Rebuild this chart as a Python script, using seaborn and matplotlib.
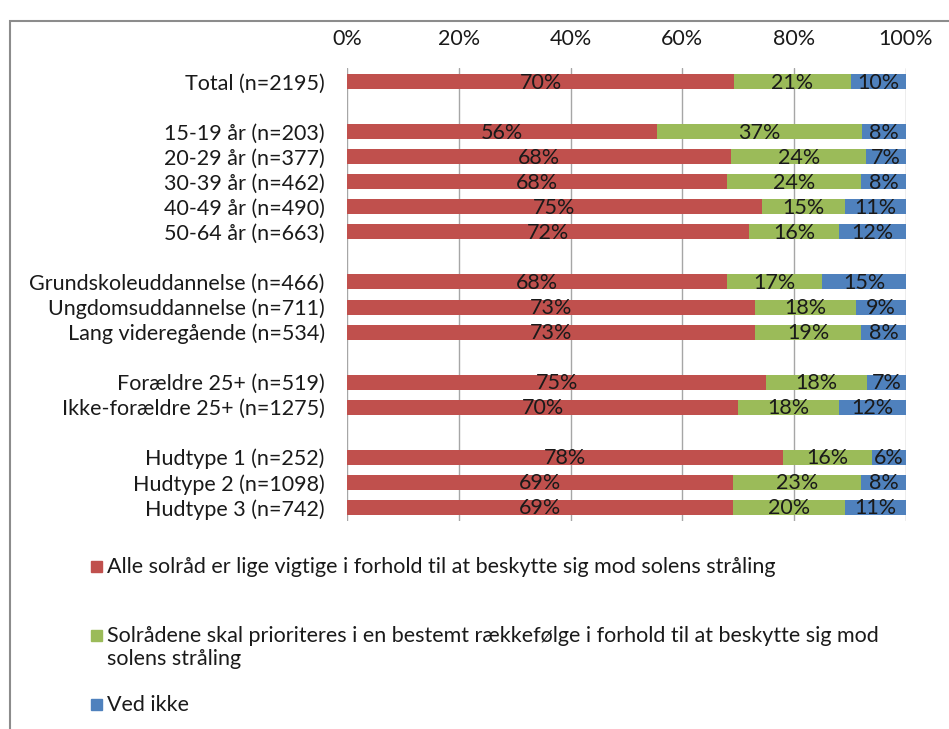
"""
Solråd: 100 % stacked bars by group, Excel-style recreation.
"""

import numpy as np
import pandas as pd
import matplotlib.pyplot as plt
import seaborn as sns
from matplotlib.patches import Rectangle
from matplotlib.ticker import FuncFormatter

groups = [
    "Total (n=2195)",
    "15-19 år (n=203)",
    "20-29 år (n=377)",
    "30-39 år (n=462)",
    "40-49 år (n=490)",
    "50-64 år (n=663)",
    "Grundskoleuddannelse (n=466)",
    "Ungdomsuddannelse (n=711)",
    "Lang videregående (n=534)",
    "Forældre 25+ (n=519)",
    "Ikke-forældre 25+ (n=1275)",
    "Hudtype 1 (n=252)",
    "Hudtype 2 (n=1098)",
    "Hudtype 3 (n=742)",
]
# row slot of each group (blank rows separate the blocks)
slots = [0, 2, 3, 4, 5, 6, 8, 9, 10, 12, 13, 15, 16, 17]

alle = [70, 56, 68, 68, 75, 72, 68, 73, 73, 75, 70, 78, 69, 69]
prioriteres = [21, 37, 24, 24, 15, 16, 17, 18, 19, 18, 18, 16, 23, 20]
ved_ikke = [10, 8, 7, 8, 11, 12, 15, 9, 8, 7, 12, 6, 8, 11]

series = [
    "Alle solråd er lige vigtige i forhold til at beskytte sig mod solens stråling",
    "Solrådene skal prioriteres i en bestemt rækkefølge i forhold til at beskytte sig mod\nsolens stråling",
    "Ved ikke",
]
colors = ["#C0504D", "#9BBB59", "#4F81BD"]

df = pd.DataFrame({"group": groups, "slot": slots,
                   "a": alle, "b": prioriteres, "c": ved_ikke})
tot = df[["a", "b", "c"]].sum(axis=1)
for k in ["a", "b", "c"]:
    df[k + "_n"] = df[k] / tot * 100
df["cum_a"] = df["a_n"]
df["cum_b"] = df["a_n"] + df["b_n"]
df["cum_c"] = df["cum_b"] + df["c_n"]

sns.set_style("white")
plt.rcParams["font.family"] = ["Lato", "DejaVu Sans"]

fig = plt.figure(figsize=(9.49, 7.29), dpi=100)
ax = fig.add_axes([347 / 949, 1 - 521 / 729, 559 / 949, 453 / 729])

# stacked by overlaying cumulative bars, widest first
for col, c in zip(["cum_c", "cum_b", "cum_a"], colors[::-1]):
    sns.barplot(data=df, x=col, y="slot", orient="y", native_scale=True,
                color=c, saturation=1, width=0.6, linewidth=0,
                errorbar=None, ax=ax)

# segment labels
for _, r in df.iterrows():
    lefts = [0, r["cum_a"], r["cum_b"]]
    widths = [r["a_n"], r["b_n"], r["c_n"]]
    for l, w, v in zip(lefts, widths, [r["a"], r["b"], r["c"]]):
        ax.text(l + w / 2, r["slot"] + 0.04, f"{v}%", ha="center", va="center",
                fontsize=15.5, color="#1a1a1a")

ax.set_xlim(0, 100)
ax.set_ylim(17.55, -0.55)
ax.set_xticks(np.arange(0, 101, 20))
ax.xaxis.set_major_formatter(FuncFormatter(lambda v, p: f"{v:.0f}%"))
ax.xaxis.tick_top()
ax.set_yticks(slots)
ax.set_yticklabels(groups)
ax.tick_params(axis="both", length=0, labelsize=15.5, colors="#1a1a1a")
ax.tick_params(axis="x", pad=14)
ax.tick_params(axis="y", pad=16)
ax.set_xlabel("")
ax.set_ylabel("")
ax.xaxis.grid(True, color="#a6a6a6", lw=1)
ax.set_axisbelow(True)
for s in ax.spines.values():
    s.set_visible(False)

# legend, one entry per row like the original
leg_y = [566, 635, 704]
for name, c, y in zip(series, colors, leg_y):
    fig.patches.append(Rectangle((91 / 949, 1 - (y + 6) / 729), 11 / 949, 11 / 729,
                                 transform=fig.transFigure, color=c))
    fig.text(107 / 949, 1 - (y - 9) / 729, name, ha="left", va="top",
             fontsize=15.5, color="#1a1a1a", linespacing=1.2)

# chart frame (cut off at the right and bottom)
fig.patches.append(Rectangle((10 / 949, -0.05), 1.1, 1 - 21 / 729 + 0.05,
                             transform=fig.transFigure, fill=False,
                             edgecolor="#8c8c8c", lw=1.5))

plt.savefig("out.png", dpi=100)
